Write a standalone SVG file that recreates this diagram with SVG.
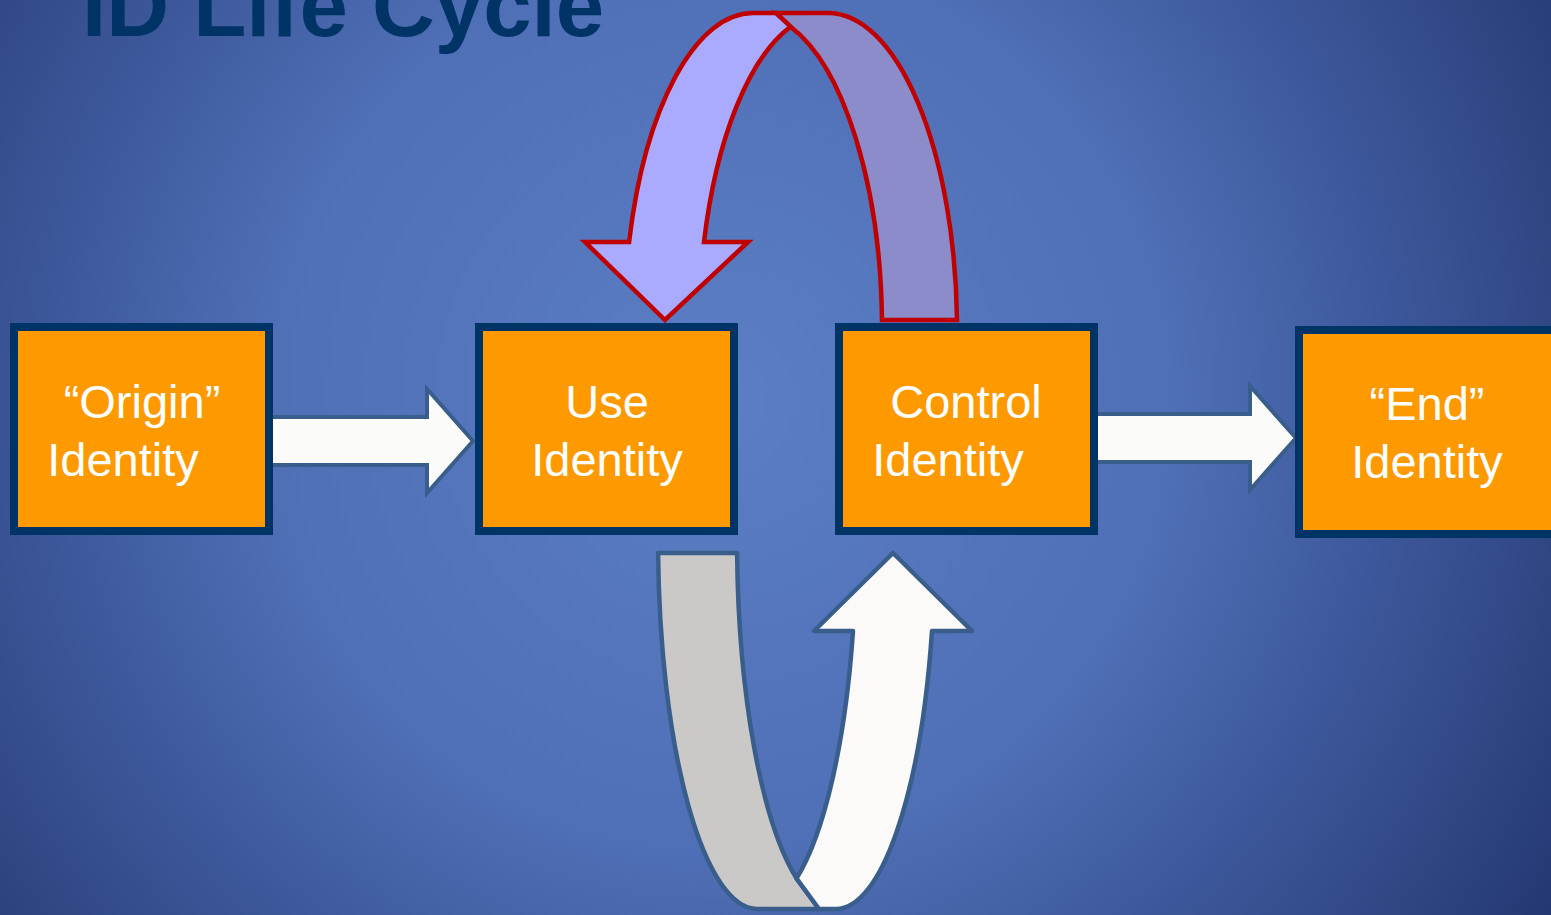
<svg xmlns="http://www.w3.org/2000/svg" width="1551" height="915" viewBox="0 0 1551 915">
  <defs>
    <radialGradient id="bg" gradientUnits="userSpaceOnUse" cx="720" cy="400" r="1000">
      <stop offset="0" stop-color="#5b7ec4"/>
      <stop offset="0.45" stop-color="#4f6fb6"/>
      <stop offset="1" stop-color="#223670"/>
    </radialGradient>
  </defs>
  <style>
    .box { fill: #ff9900; stroke: #003366; stroke-width: 8; }
    .lbl { font-family: "Liberation Sans", Arial, sans-serif; font-size: 47px; fill: #ffffff; text-anchor: middle; }
    .title { font-family: "Liberation Sans", Arial, sans-serif; font-size: 87px; font-weight: bold; fill: #003366; }
    .straight { fill: #fbfbf9; stroke: #3a5e8c; stroke-width: 4; stroke-linejoin: miter; }
    .red { stroke: #c00000; stroke-width: 4.5; stroke-linejoin: miter; }
    .blue { stroke: #3a5e8c; stroke-width: 4.5; stroke-linejoin: round; }
  </style>
  <rect x="0" y="0" width="1551" height="915" fill="url(#bg)"/>
  <text class="title" x="82" y="36">ID Life Cycle</text>

  <g id="connectors">
    <path id="arrow-origin-use" class="straight" d="M270,417 L427,417 L427,389 L473,441 L427,493 L427,465 L270,465 Z"/>
    <path id="arrow-control-end" class="straight" d="M1094,414 L1250,414 L1250,386 L1296,438 L1250,490 L1250,462 L1094,462 Z"/>
    <g id="arrow-control-use">
      <path class="red" fill="#8c8ccb" d="M882,320 L957,320 A129 317 0 0 0 828,13 L776,13 L790.5,26.7 A129 317 0 0 1 882,320 Z"/>
      <path class="red" fill="#aaaaff" d="M629.1,242 A129 317 0 0 1 753,13 L776,13 L790.5,26.7 A129 317 0 0 0 704,242 L748,242 L665,320 L585,242 Z"/>
    </g>
    <g id="arrow-use-control">
      <path class="blue" fill="#cac9c7" d="M658.1,553 L737.1,553 A99 369 0 0 0 796.5,878.4 L819,909 L757,909 A99 369 0 0 1 658.1,553 Z"/>
      <path class="blue" fill="#fbfaf8" d="M796.5,878.4 L819,909 L836,909 A99 369 0 0 0 932,631 L972,631 L893,553 L814,631 L853,631 A99 369 0 0 1 796.5,878.4 Z"/>
    </g>
  </g>

  <g id="node-origin">
    <rect class="box" x="14" y="327" width="255" height="204"/>
    <text class="lbl" x="142" y="418">“Origin”</text>
    <text class="lbl" x="123" y="476">Identity</text>
  </g>
  <g id="node-use">
    <rect class="box" x="479" y="327" width="255" height="204"/>
    <text class="lbl" x="607" y="418">Use</text>
    <text class="lbl" x="607" y="476">Identity</text>
  </g>
  <g id="node-control">
    <rect class="box" x="839" y="327" width="255" height="204"/>
    <text class="lbl" x="966" y="418">Control</text>
    <text class="lbl" x="948" y="476">Identity</text>
  </g>
  <g id="node-end">
    <rect class="box" x="1299" y="330" width="262" height="204"/>
    <text class="lbl" x="1427" y="420">“End”</text>
    <text class="lbl" x="1427" y="478">Identity</text>
  </g>
</svg>
